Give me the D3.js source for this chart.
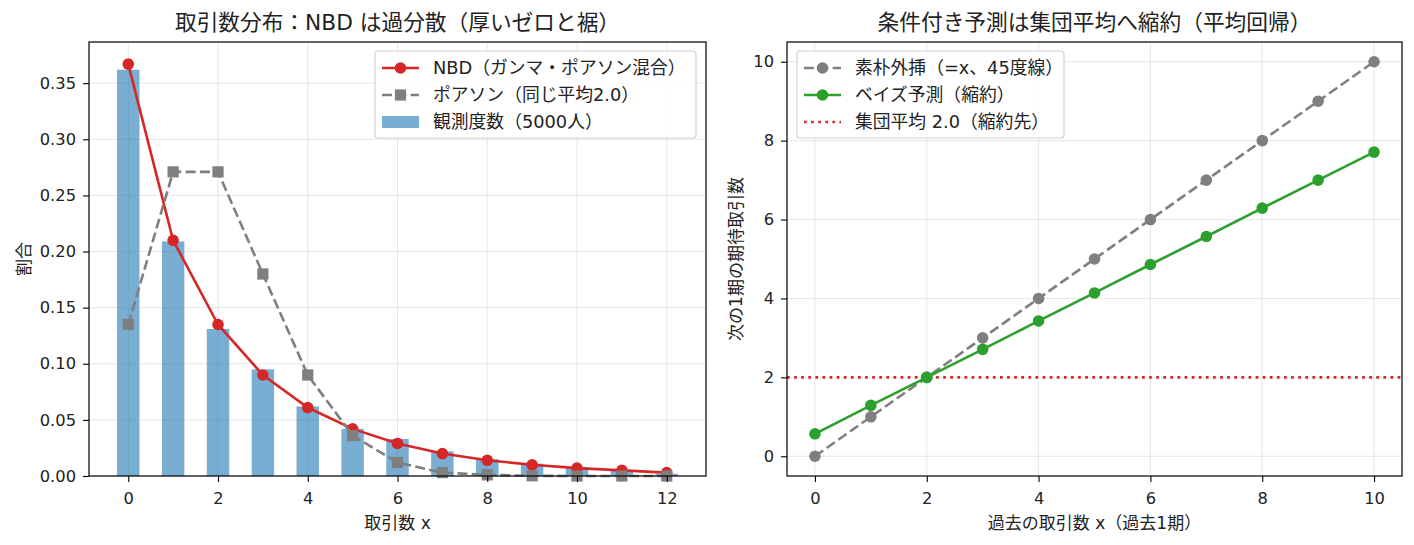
<!DOCTYPE html>
<html>
<head>
<meta charset="utf-8">
<script src="https://cdn.jsdelivr.net/npm/d3@7"></script>
<style>
    body { margin: 0; background: #fff; }
    svg { display: block; }
    text { font-family: "DejaVu Sans", "Noto Sans CJK JP", sans-serif; fill: #222; }
</style>
</head>
<body>
<svg id="chart" width="1414" height="545"></svg>
<script>
// left panel: distribution of transaction counts
const counts = [0, 1, 2, 3, 4, 5, 6, 7, 8, 9, 10, 11, 12];
const nbdProb = [0.367, 0.210, 0.135, 0.090, 0.061, 0.042, 0.029, 0.020, 0.014, 0.010, 0.007, 0.005, 0.003];
const poissonProb = [0.135, 0.271, 0.271, 0.180, 0.090, 0.036, 0.012, 0.003, 0.001, 0.0002, 0.0000, 0.0000, 0.0000];
const observedShare = [0.362, 0.209, 0.131, 0.095, 0.062, 0.042, 0.033, 0.022, 0.015, 0.011, 0.008, 0.005, 0.002];
const leftXTicks = [0, 2, 4, 6, 8, 10, 12];
const leftYTicks = [0, 0.05, 0.10, 0.15, 0.20, 0.25, 0.30, 0.35];

// right panel: conditional expectation
const pastCounts = [0, 1, 2, 3, 4, 5, 6, 7, 8, 9, 10];
const naiveForecast = [0, 1, 2, 3, 4, 5, 6, 7, 8, 9, 10];
const bayesForecast = [0.57, 1.29, 2.00, 2.71, 3.43, 4.14, 4.86, 5.57, 6.29, 7.00, 7.71];
const populationMean = 2.0;
const rightXTicks = [0, 2, 4, 6, 8, 10];
const rightYTicks = [0, 2, 4, 6, 8, 10];

const RED = '#d62728', GRAY = '#7f7f7f', BLUE = '#1f77b4', GREEN = '#2ca02c';
const DASH = '10,4.3', DOT = '2.7,4.4';
const LW = 2.6, MR = 5.8, SQ = 5.6;
const FS = '16.3px';       // tick labels
const LABEL_FS = '17px';   // axis labels
const LEGEND_FS = '17.8px';

const svg = d3.select('#chart');

function panel(box, xDomain, yDomain, xTicks, yTicks, yFmt, title, xLabel, yLabel, yLabelX) {
    let x = d3.scaleLinear().domain(xDomain).range([box.left, box.right]);
    let y = d3.scaleLinear().domain(yDomain).range([box.bottom, box.top]);
    let g = svg.append('g');

    // grid
    let grid = g.append('g').attr('stroke', '#b0b0b0').attr('stroke-opacity', 0.3).attr('stroke-width', 1);
    grid.selectAll('.gx').data(xTicks).enter().append('line')
        .attr('x1', d => x(d)).attr('x2', d => x(d))
        .attr('y1', box.top).attr('y2', box.bottom);
    grid.selectAll('.gy').data(yTicks).enter().append('line')
        .attr('x1', box.left).attr('x2', box.right)
        .attr('y1', d => y(d)).attr('y2', d => y(d));

    let plot = g.append('g');

    let xAxis = d3.axisBottom(x).tickValues(xTicks).tickSize(6).tickPadding(10).tickFormat(d3.format('d'));
    let yAxis = d3.axisLeft(y).tickValues(yTicks).tickSize(6).tickPadding(7).tickFormat(yFmt);
    let axes = g.append('g');
    let ax = axes.append('g').attr('transform', 'translate(0,' + box.bottom + ')').call(xAxis);
    let ay = axes.append('g').attr('transform', 'translate(' + box.left + ',0)').call(yAxis);
    [ax, ay].forEach(a => {
        a.select('.domain').remove();
        a.selectAll('line').attr('stroke', '#000').attr('stroke-width', 1.1);
        a.selectAll('text').style('font-size', FS).attr('fill', '#222');
    });
    axes.append('rect')
        .attr('x', box.left).attr('y', box.top)
        .attr('width', box.right - box.left).attr('height', box.bottom - box.top)
        .attr('fill', 'none').attr('stroke', '#000').attr('stroke-width', 1.2);

    let cx = (box.left + box.right) / 2;
    g.append('text').attr('x', cx).attr('y', box.top - 12)
        .attr('text-anchor', 'middle').style('font-size', '21.7px').text(title);
    g.append('text').attr('x', cx).attr('y', box.bottom + 53)
        .attr('text-anchor', 'middle').style('font-size', LABEL_FS).text(xLabel);
    g.append('text')
        .attr('transform', 'translate(' + yLabelX + ',' + ((box.top + box.bottom) / 2) + ') rotate(-90)')
        .attr('text-anchor', 'middle').attr('dy', '0.35em').style('font-size', LABEL_FS).text(yLabel);

    return { x, y, plot, g };
}

function drawLine(p, xs, ys, color, dash, marker) {
    let line = d3.line().x((d, i) => p.x(xs[i])).y(d => p.y(d));
    p.plot.append('path').datum(ys)
        .attr('d', line).attr('fill', 'none')
        .attr('stroke', color).attr('stroke-width', LW)
        .attr('stroke-dasharray', dash);
    let m = p.plot.append('g').attr('fill', color);
    if (marker === 'square') {
        m.selectAll('rect').data(ys).enter().append('rect')
            .attr('x', (d, i) => p.x(xs[i]) - SQ).attr('y', d => p.y(d) - SQ)
            .attr('width', 2 * SQ).attr('height', 2 * SQ);
    } else {
        m.selectAll('circle').data(ys).enter().append('circle')
            .attr('cx', (d, i) => p.x(xs[i])).attr('cy', d => p.y(d)).attr('r', MR);
    }
}

function legend(p, left, top, width, items) {
    let lg = p.g.append('g');
    lg.append('rect').attr('x', left).attr('y', top)
        .attr('width', width).attr('height', 27 * items.length + 6)
        .attr('rx', 3).attr('fill', '#fff').attr('fill-opacity', 0.85)
        .attr('stroke', '#d0d0d0').attr('stroke-width', 1.2);
    items.forEach((it, i) => {
        let cy = top + 17 + i * 27;
        let hx = left + 7;
        if (it.type === 'patch') {
            lg.append('rect').attr('x', hx).attr('y', cy - 6).attr('width', 37).attr('height', 12)
                .attr('fill', it.color).attr('fill-opacity', 0.6);
        } else {
            lg.append('line').attr('x1', hx).attr('x2', hx + 37).attr('y1', cy).attr('y2', cy)
                .attr('stroke', it.color).attr('stroke-width', LW).attr('stroke-dasharray', it.dash);
            if (it.marker === 'square') {
                lg.append('rect').attr('x', hx + 18.5 - SQ).attr('y', cy - SQ)
                    .attr('width', 2 * SQ).attr('height', 2 * SQ).attr('fill', it.color);
            } else if (it.marker === 'circle') {
                lg.append('circle').attr('cx', hx + 18.5).attr('cy', cy).attr('r', MR).attr('fill', it.color);
            }
        }
        lg.append('text').attr('x', left + 58).attr('y', cy).attr('dy', '0.35em')
            .style('font-size', LEGEND_FS).text(it.label);
    });
}

// ---- left panel
let leftP = panel({ left: 89, right: 706, top: 42, bottom: 476 },
    [-0.875, 12.875], [0, 0.3867], leftXTicks, leftYTicks, d3.format('.2f'),
    '取引数分布：NBD は過分散（厚いゼロと裾）', '取引数 x', '割合', 24);

leftP.plot.append('g').selectAll('rect').data(observedShare).enter().append('rect')
    .attr('x', (d, i) => leftP.x(counts[i] - 0.25))
    .attr('width', (d, i) => leftP.x(counts[i] + 0.25) - leftP.x(counts[i] - 0.25))
    .attr('y', d => leftP.y(d))
    .attr('height', d => leftP.y(0) - leftP.y(d))
    .attr('fill', BLUE).attr('fill-opacity', 0.6);

drawLine(leftP, counts, nbdProb, RED, null, 'circle');
drawLine(leftP, counts, poissonProb, GRAY, DASH, 'square');

legend(leftP, 375, 51, 321, [
    { label: 'NBD（ガンマ・ポアソン混合）', color: RED, marker: 'circle' },
    { label: 'ポアソン（同じ平均2.0）', color: GRAY, marker: 'square', dash: DASH },
    { label: '観測度数（5000人）', color: BLUE, type: 'patch' }
]);

// ---- right panel
let rightP = panel({ left: 787, right: 1402, top: 42, bottom: 476 },
    [-0.5, 10.5], [-0.5, 10.5], rightXTicks, rightYTicks, d3.format('d'),
    '条件付き予測は集団平均へ縮約（平均回帰）', '過去の取引数 x（過去1期）', '次の1期の期待取引数', 736);

rightP.plot.append('line')
    .attr('x1', 787).attr('x2', 1402)
    .attr('y1', rightP.y(populationMean)).attr('y2', rightP.y(populationMean))
    .attr('stroke', RED).attr('stroke-width', LW).attr('stroke-dasharray', DOT);
drawLine(rightP, pastCounts, naiveForecast, GRAY, DASH, 'circle');
drawLine(rightP, pastCounts, bayesForecast, GREEN, null, 'circle');

legend(rightP, 797, 51, 267, [
    { label: '素朴外挿（=x、45度線）', color: GRAY, marker: 'circle', dash: DASH },
    { label: 'ベイズ予測（縮約）', color: GREEN, marker: 'circle' },
    { label: '集団平均 2.0（縮約先）', color: RED, dash: DOT }
]);
</script>
</body>
</html>
